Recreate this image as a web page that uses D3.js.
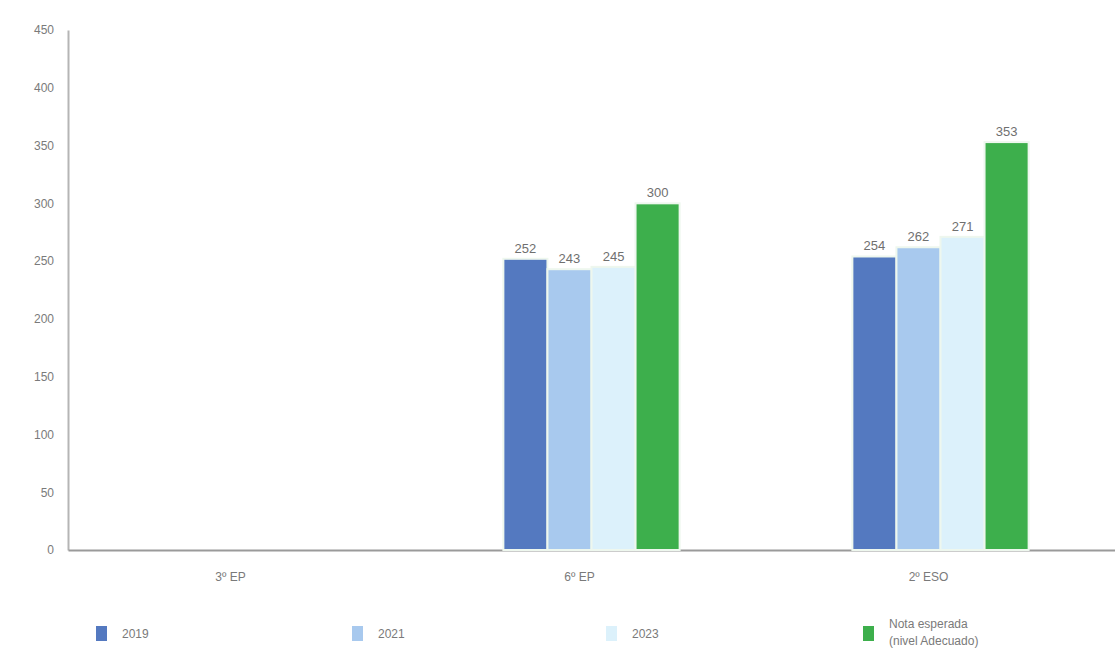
<!DOCTYPE html>
<html>
<head>
<meta charset="utf-8">
<script src="https://cdn.jsdelivr.net/npm/d3@7"></script>
<style>
  body { margin: 0; background: #fff; }
  text { font-family: "Liberation Sans", Arial, sans-serif; }
</style>
</head>
<body>
<div id="chart"></div>
<script>
// data
const categories = ["3º EP", "6º EP", "2º ESO"]
const seriesNames = ["2019", "2021", "2023", "Nota esperada|(nivel Adecuado)"]
const values2019 = [null, 252, 254]
const values2021 = [null, 243, 262]
const values2023 = [null, 245, 271]
const valuesNota = [null, 300, 353]
const yTicks = [0, 50, 100, 150, 200, 250, 300, 350, 400, 450]

const colors = ["#5479c0", "#a8c9ee", "#dcf1fb", "#3daf4c"]
const allSeries = [values2019, values2021, values2023, valuesNota]

const width = 1115, height = 658
const margin = { top: 30, right: 0, bottom: 108, left: 68 }

const svg = d3.select("#chart")
  .append("svg")
    .attr("width", width)
    .attr("height", height)

// scales
const x0 = d3.scaleBand()
  .domain(categories)
  .range([margin.left, width - margin.right])

const x1 = d3.scaleBand()
  .domain(d3.range(seriesNames.length))
  .range([0, x0.bandwidth() * 0.505])

const y = d3.scaleLinear()
  .domain([0, 450])
  .range([height - margin.bottom, margin.top])

// y axis
const yAxis = svg.append("g")
  .attr("transform", "translate(" + margin.left + ",0)")
  .call(d3.axisLeft(y).tickValues(yTicks).tickSize(0).tickPadding(14))
yAxis.select(".domain").attr("stroke", "#b5b5b5").attr("stroke-width", 2)
yAxis.selectAll("text").attr("fill", "#7a7a7a").style("font-size", "12px")

// x axis
const xAxis = svg.append("g")
  .attr("transform", "translate(0," + y(0) + ")")
  .call(d3.axisBottom(x0).tickSize(0).tickPadding(22))
xAxis.select(".domain").attr("stroke", "#9a9a9a").attr("stroke-width", 2)
xAxis.selectAll("text")
  .attr("fill", "#7a7a7a")
  .attr("dx", "-12")
  .style("font-size", "12px")

// bars
const rows = []
categories.forEach(function(c, i) {
  allSeries.forEach(function(s, j) {
    if (s[i] != null) rows.push({ cat: c, series: j, value: s[i] })
  })
})

function barX(d) {
  return x0(d.cat) + (x0.bandwidth() - x1.range()[1]) / 2 + x1(d.series)
}

const bars = svg.append("g")
bars.selectAll("rect")
  .data(rows)
  .enter()
  .append("rect")
    .attr("x", barX)
    .attr("y", function(d) { return y(d.value) })
    .attr("width", x1.bandwidth())
    .attr("height", function(d) { return y(0) - y(d.value) })
    .attr("fill", function(d) { return colors[d.series] })
    .attr("stroke", "#eef7ee")
    .attr("stroke-width", 2)

bars.selectAll("text")
  .data(rows)
  .enter()
  .append("text")
    .attr("x", function(d) { return barX(d) + x1.bandwidth() / 2 })
    .attr("y", function(d) { return y(d.value) - 6 })
    .attr("text-anchor", "middle")
    .attr("fill", "#6f6f6f")
    .style("font-size", "13px")
    .text(function(d) { return d.value })

// legend
const legendX = [96, 352, 606, 863]
const legend = svg.append("g").attr("transform", "translate(0,634)")
seriesNames.forEach(function(name, i) {
  const g = legend.append("g").attr("transform", "translate(" + legendX[i] + ",0)")
  g.append("rect")
    .attr("x", 0).attr("y", -8)
    .attr("width", 11).attr("height", 15)
    .attr("fill", colors[i])
  const lines = name.split("|")
  const t = g.append("text")
    .attr("fill", "#7a7a7a")
    .style("font-size", "12px")
  lines.forEach(function(l, k) {
    t.append("tspan")
      .attr("x", 26)
      .attr("y", lines.length > 1 ? -6 + k * 17 : 4)
      .text(l)
  })
})
</script>
</body>
</html>
